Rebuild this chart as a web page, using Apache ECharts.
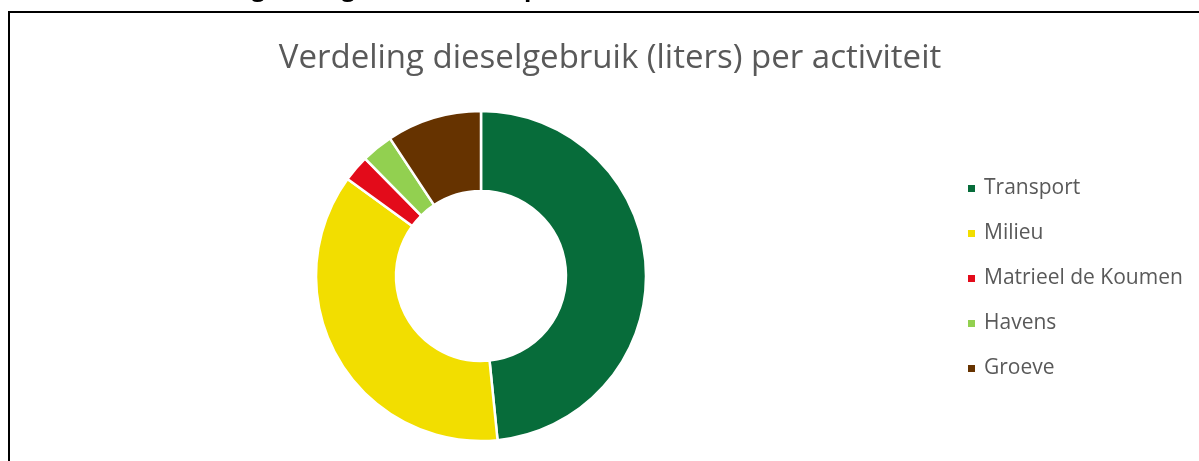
<!DOCTYPE html>
<html>
<head>
<meta charset="utf-8">
<script src="https://cdn.jsdelivr.net/npm/echarts@6/dist/echarts.min.js"></script>
<style>
  html, body { margin: 0; padding: 0; background: #fff; }
  #chart { width: 1199px; height: 461px; }
</style>
</head>
<body>
<div id="chart"></div>
<script>
// activities and estimated share of diesel use (liters)
const activities = ['Transport', 'Milieu', 'Matrieel de Koumen', 'Havens', 'Groeve']
const liters = [48400, 36600, 2600, 3100, 9300]
const colors = ['#076c3a', '#f2de00', '#e30b1a', '#92d050', '#663300']

const chart = echarts.init(document.getElementById('chart'))

chart.setOption({
  animation: false,
  color: colors,
  title: {
    text: 'Verdeling dieselgebruik (liters) per activiteit',
    left: 605,
    textAlign: 'center',
    top: 37,
    textStyle: {
      fontFamily: 'Open Sans',
      fontWeight: 'normal',
      fontSize: 33,
      color: '#595959',
    },
  },
  legend: {
    orient: 'vertical',
    left: 961,
    top: 173,
    icon: 'rect',
    itemWidth: 9,
    itemHeight: 9,
    itemGap: 24,
    data: activities,
    textStyle: {
      fontFamily: 'Open Sans',
      fontSize: 21,
      lineHeight: 20,
      color: '#595959',
      padding: [0, 0, 0, 3],
    },
  },
  graphic: [
    {
      type: 'rect',
      shape: { x: 9, y: 12, width: 1300, height: 600 },
      style: { fill: 'none', stroke: '#000', lineWidth: 2 },
      silent: true,
    },
    {
      // heading of the page above the chart, mostly cut off
      type: 'text',
      x: 151,
      y: 1,
      style: {
        text: 'Verdeling dieselgebruik (liters) per activiteit',
        fontFamily: 'Open Sans',
        fontWeight: 'bold',
        fontSize: 24,
        fill: '#000',
        verticalAlign: 'bottom',
      },
      silent: true,
    },
  ],
  series: [
    {
      type: 'pie',
      center: [481, 276],
      radius: [85, 165],
      startAngle: 90,
      clockwise: true,
      avoidLabelOverlap: false,
      label: { show: false },
      labelLine: { show: false },
      itemStyle: { borderColor: '#fff', borderWidth: 2.5 },
      data: activities.map((name, i) => ({ name, value: liters[i] })),
    },
  ],
})
</script>
</body>
</html>
